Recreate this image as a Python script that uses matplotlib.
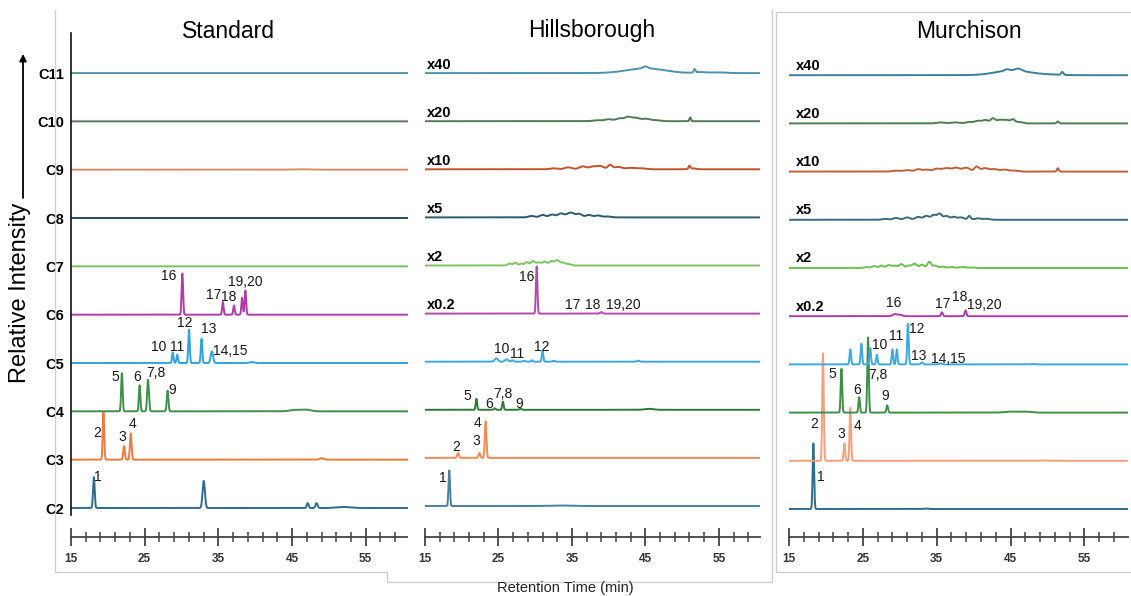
import numpy as np
import matplotlib
matplotlib.use("Agg")
import matplotlib.pyplot as plt
from matplotlib.lines import Line2D

plt.rcParams['font.family'] = ['Liberation Sans', 'DejaVu Sans']

# ---------------------------------------------------------------- data
# Retention-time grid (min)
t = np.linspace(15, 61, 4601)

row_names = ["C2", "C3", "C4", "C5", "C6", "C7", "C8", "C9", "C10", "C11"]
scale_labels = ["", "", "", "", "x0.2", "x2", "x5", "x10", "x20", "x40"]
titles = ["Standard", "Hillsborough", "Murchison"]
major_ticks = [15, 25, 35, 45, 55]

# Peak tables per trace: (retention time [min], height [trace units], sigma [min])
std_C2 = [(18.1, 0.64, 0.11), (33.0, 0.56, 0.16), (47.1, 0.10, 0.12), (48.3, 0.10, 0.14), (52.0, 0.02, 1.0)]
std_C3 = [(19.4, 0.98, 0.10), (22.2, 0.28, 0.11), (23.1, 0.54, 0.11), (49.0, 0.03, 0.3)]
std_C4 = [(21.9, 0.79, 0.10), (24.3, 0.54, 0.10), (25.45, 0.65, 0.12), (28.1, 0.43, 0.11),
          (45.5, 0.03, 0.8), (47.0, 0.03, 0.6)]
std_C5 = [(28.8, 0.22, 0.10), (29.4, 0.17, 0.10), (31.0, 0.69, 0.10), (32.7, 0.50, 0.10),
          (34.1, 0.24, 0.16), (39.5, 0.02, 0.3)]
std_C6 = [(30.1, 0.85, 0.10), (35.6, 0.26, 0.10), (37.1, 0.19, 0.10), (38.2, 0.35, 0.10), (38.65, 0.50, 0.10)]
std_C7 = []
std_C8 = []
std_C9 = [(46.0, 0.01, 1.0)]
std_C10 = []
std_C11 = []

hil_C2 = [(18.3, 0.74, 0.10), (33.5, 0.01, 1.5)]
hil_C3 = [(19.5, 0.10, 0.12), (22.4, 0.10, 0.12), (23.25, 0.76, 0.11)]
hil_C4 = [(22.0, 0.23, 0.10), (24.5, 0.03, 0.12), (25.6, 0.17, 0.10), (28.0, 0.02, 0.15), (45.5, 0.02, 0.6)]
hil_C5 = [(24.7, 0.07, 0.22), (26.1, 0.05, 0.2), (26.9, 0.03, 0.15), (28.5, 0.02, 0.15),
          (29.5, 0.03, 0.12), (31.0, 0.23, 0.10), (32.5, 0.02, 0.15), (44.0, 0.02, 0.2)]
hil_C6 = [(30.2, 0.98, 0.10), (39.0, 0.03, 0.15)]
hil_C7 = [(26.5, 0.04, 0.25), (27.3, 0.06, 0.25), (28.1, 0.04, 0.2), (28.8, 0.07, 0.25), (29.7, 0.09, 0.3),
          (30.5, 0.06, 0.3), (31.3, 0.08, 0.3), (32.2, 0.09, 0.3), (33.0, 0.11, 0.3), (33.8, 0.06, 0.3),
          (34.6, 0.03, 0.3)]
hil_C8 = [(29.5, 0.03, 0.4), (31.0, 0.05, 0.4), (32.3, 0.06, 0.4), (33.5, 0.08, 0.4), (34.8, 0.10, 0.5),
          (36.0, 0.07, 0.4), (37.3, 0.05, 0.4), (38.5, 0.04, 0.4), (39.8, 0.02, 0.5)]
hil_C9 = [(32.5, 0.02, 0.5), (34.5, 0.04, 0.5), (36.5, 0.06, 0.5), (37.8, 0.05, 0.4), (38.8, 0.07, 0.5),
          (40.2, 0.09, 0.3), (41.3, 0.05, 0.5), (43.0, 0.03, 0.6), (44.5, 0.02, 0.6), (51.0, 0.07, 0.12),
          (51.5, 0.02, 0.4)]
hil_C10 = [(38.5, 0.02, 0.6), (40.0, 0.04, 0.5), (41.5, 0.06, 0.5), (42.6, 0.08, 0.4), (43.6, 0.07, 0.5),
           (45.0, 0.05, 0.6), (46.5, 0.02, 0.6), (51.1, 0.08, 0.10)]
hil_C11 = [(45.0, 0.10, 2.5), (45.0, 0.04, 0.3), (51.7, 0.07, 0.12), (52.5, 0.02, 0.8), (55.0, 0.015, 1.0)]

mur_C2 = [(18.3, 1.36, 0.10), (33.5, 0.01, 0.3)]
mur_C3 = [(19.6, 2.23, 0.10), (22.5, 0.36, 0.10), (23.3, 1.10, 0.10), (49.5, 0.01, 0.3)]
mur_C4 = [(22.1, 0.91, 0.10), (24.5, 0.32, 0.10), (25.7, 1.56, 0.10), (28.3, 0.15, 0.11),
          (45.0, 0.02, 0.8), (47.0, 0.02, 0.8)]
mur_C5 = [(23.3, 0.31, 0.10), (24.8, 0.43, 0.10), (26.0, 0.34, 0.10), (26.9, 0.20, 0.10), (29.0, 0.31, 0.10),
          (29.6, 0.31, 0.10), (31.1, 0.84, 0.10), (33.0, 0.04, 0.15), (35.5, 0.02, 0.2), (48.0, 0.01, 0.3)]
mur_C6 = [(29.3, 0.04, 0.3), (30.0, 0.03, 0.3), (35.7, 0.08, 0.12), (38.9, 0.12, 0.12)]
mur_C7 = [(25.5, 0.02, 0.3), (26.5, 0.04, 0.3), (27.5, 0.05, 0.3), (28.5, 0.06, 0.3), (29.3, 0.05, 0.3),
          (30.2, 0.08, 0.3), (31.2, 0.05, 0.3), (32.0, 0.09, 0.3), (33.0, 0.07, 0.3), (34.0, 0.13, 0.25),
          (34.8, 0.05, 0.3), (35.8, 0.03, 0.3), (37.0, 0.02, 0.4), (38.5, 0.02, 0.4), (39.8, 0.01, 0.4)]
mur_C8 = [(28.0, 0.02, 0.4), (29.5, 0.04, 0.4), (31.0, 0.05, 0.4), (32.5, 0.06, 0.4), (33.6, 0.08, 0.35),
          (34.6, 0.10, 0.35), (35.4, 0.12, 0.3), (36.3, 0.08, 0.35), (37.3, 0.06, 0.35), (38.3, 0.05, 0.4),
          (39.4, 0.08, 0.2), (40.5, 0.03, 0.4), (41.7, 0.02, 0.5)]
mur_C9 = [(29.5, 0.02, 0.5), (31.0, 0.03, 0.5), (32.5, 0.05, 0.4), (33.6, 0.04, 0.4), (35.0, 0.06, 0.5),
          (36.3, 0.07, 0.5), (37.6, 0.08, 0.5), (39.0, 0.08, 0.5), (40.4, 0.10, 0.3), (41.5, 0.07, 0.5),
          (42.8, 0.05, 0.5), (44.2, 0.04, 0.5), (45.5, 0.02, 0.5), (51.4, 0.07, 0.12)]
mur_C10 = [(35.5, 0.02, 0.5), (37.5, 0.02, 0.6), (39.5, 0.03, 0.5), (40.6, 0.05, 0.4), (41.6, 0.07, 0.4),
           (42.6, 0.10, 0.3), (43.5, 0.07, 0.4), (44.4, 0.07, 0.4), (45.3, 0.08, 0.3), (46.2, 0.03, 0.4),
           (51.4, 0.04, 0.15)]
mur_C11 = [(45.3, 0.10, 2.3), (44.5, 0.03, 0.3), (45.8, 0.03, 0.3), (46.3, 0.03, 0.3), (52.0, 0.06, 0.15),
           (50.5, 0.01, 1.5)]

standard = [std_C2, std_C3, std_C4, std_C5, std_C6, std_C7, std_C8, std_C9, std_C10, std_C11]
hillsborough = [hil_C2, hil_C3, hil_C4, hil_C5, hil_C6, hil_C7, hil_C8, hil_C9, hil_C10, hil_C11]
murchison = [mur_C2, mur_C3, mur_C4, mur_C5, mur_C6, mur_C7, mur_C8, mur_C9, mur_C10, mur_C11]

# Peak number labels: (text, retention time, vertical position in row units)
std_labels = [("1", 18.66, 0.64), ("2", 18.49, 1.55), ("3", 21.92, 1.47), ("4", 23.37, 1.74),
              ("5", 21.07, 2.71), ("6", 23.96, 2.71), ("7,8", 26.49, 2.79), ("9", 28.66, 2.44),
              ("10", 26.90, 3.33), ("11", 29.34, 3.33), ("12", 30.47, 3.83), ("13", 33.63, 3.70),
              ("14,15", 36.57, 3.25), ("16", 28.20, 4.79), ("17", 34.31, 4.41), ("18", 36.34, 4.37),
              ("19,20", 38.61, 4.68)]
hil_labels = [("1", 17.41, 0.58), ("2", 19.31, 1.23), ("3", 22.03, 1.36), ("4", 22.12, 1.73),
              ("5", 20.76, 2.29), ("6", 23.75, 2.12), ("7,8", 25.57, 2.33), ("9", 27.83, 2.12),
              ("10", 25.44, 3.26), ("11", 27.48, 3.17), ("12", 30.88, 3.30), ("16", 28.84, 4.77),
              ("17", 35.10, 4.18), ("18", 37.86, 4.18), ("19,20", 41.98, 4.18)]
mur_labels = [("1", 19.29, 0.67), ("2", 18.38, 1.76), ("3", 22.13, 1.55), ("4", 24.24, 1.73),
              ("5", 20.91, 2.80), ("6", 24.16, 2.47), ("7,8", 27.08, 2.78), ("9", 27.99, 2.35),
              ("10", 27.31, 3.40), ("11", 29.57, 3.59), ("12", 32.36, 3.73), ("13", 32.50, 3.17),
              ("14,15", 36.56, 3.11), ("16", 29.21, 4.28), ("17", 35.80, 4.25), ("18", 38.14, 4.39),
              ("19,20", 41.39, 4.23)]

# ---------------------------------------------------------------- style
std_colors = ["#2f6b8a", "#f07a3c", "#3f8f46", "#2ea4dd", "#b03aa8",
              "#79c262", "#1f4d66", "#d98c68", "#4e7d55", "#5a95ad"]
hil_colors = ["#4a80a2", "#f28b55", "#2f7a36", "#38a9e0", "#b44aac",
              "#7cc463", "#2a5a72", "#c0542c", "#4e7d55", "#4d92ad"]
mur_colors = ["#2f6b8a", "#f5a07a", "#3f8f46", "#3aaae0", "#b03aa8",
              "#6cc050", "#3a6a82", "#c0603a", "#4e7d55", "#3a7fa0"]

W, H = 1131, 596
fig = plt.figure(figsize=(W / 100, H / 100), dpi=100)
fig.patch.set_facecolor("white")


def trace(row, peaks):
    y = np.full_like(t, float(row))
    for rt, h, s in peaks:
        y += h * np.exp(-0.5 * ((t - rt) / s) ** 2)
    return y


def add_panel(x0, x1, xmax, base0, spacing, traces, colors, labels):
    top_px, bot_px = 33, 515
    ax = fig.add_axes([x0 / W, 1 - bot_px / H, (x1 - x0) / W, (bot_px - top_px) / H])
    ax.set_xlim(15, xmax)
    ax.set_ylim(-(bot_px - base0) / spacing, (base0 - top_px) / spacing)
    ax.patch.set_visible(False)
    for s in ax.spines.values():
        s.set_visible(False)
    ax.set_xticks([])
    ax.set_yticks([])
    for i, (peaks, c) in enumerate(zip(traces, colors)):
        ax.plot(t, trace(i, peaks), color=c, lw=1.4, solid_joinstyle="round")
    for txt, x, y in labels:
        ax.text(x, y, txt, fontsize=10, color="#1a1a1a", ha="center", va="center")
    return ax


def add_time_axis(x0, x1, xmax):
    y_px = 537
    ax = fig.add_axes([x0 / W, 1 - (y_px + 15) / H, (x1 - x0) / W, 30 / H])
    ax.set_xlim(15, xmax)
    ax.set_ylim(-1, 1)
    ax.patch.set_visible(False)
    for s in ["left", "right", "top"]:
        ax.spines[s].set_visible(False)
    ax.spines["bottom"].set_position(("data", 0))
    ax.spines["bottom"].set_color("#444444")
    ax.spines["bottom"].set_linewidth(1.3)
    ax.set_yticks([])
    ax.set_xticks(major_ticks)
    ax.set_xticks(np.arange(17, xmax, 2), minor=True)
    ax.tick_params(axis="x", which="major", direction="inout", length=13.5, width=1.3,
                   color="#444444", labelsize=8.5, labelcolor="#333333", pad=5)
    ax.tick_params(axis="x", which="minor", direction="inout", length=6.5, width=1.1, color="#444444")
    for lab in ax.get_xticklabels():
        lab.set_fontweight("bold")
    return ax


# Standard panel
ax_std = add_panel(71, 408, 60.7, 508, 48.33, standard, std_colors, std_labels)
ax_std.spines["left"].set_visible(True)
ax_std.spines["left"].set_linewidth(1.2)
ax_std.spines["left"].set_color("#111111")
ax_std.set_yticks(range(len(row_names)))
ax_std.set_yticklabels(row_names, fontsize=10.5, fontweight="bold")
ax_std.tick_params(axis="y", length=0, pad=5)
add_time_axis(71, 407, 60.6)

# Hillsborough panel
ax_hil = add_panel(425, 760, 60.6, 506, 48.1, hillsborough, hil_colors, hil_labels)
for i, lab in enumerate(scale_labels):
    if lab:
        ax_hil.text(15.2, i + 0.17, lab, fontsize=10.5, fontweight="bold", ha="left", va="center")
add_time_axis(425, 760, 60.6)

# Murchison panel
ax_mur = add_panel(789, 1128, 60.9, 509, 48.2, murchison, mur_colors, mur_labels)
for i, lab in enumerate(scale_labels):
    if lab:
        ax_mur.text(16.0, i + 0.2, lab, fontsize=10.5, fontweight="bold", ha="left", va="center")
add_time_axis(789, 1128, 60.9)

# Panel titles
for txt, xc in zip(titles, [228, 592, 969]):
    fig.text(xc / W, 1 - 31 / H, txt, fontsize=16.5, ha="center", va="center")

# Y-axis caption and arrow
fig.text(20 / W, 1 - 293 / H, "Relative Intensity", rotation=90, fontsize=17,
         ha="center", va="center")
fig.add_artist(plt.Annotation("", xy=(23 / W, 1 - 54 / H), xytext=(23 / W, 1 - 198 / H),
                              xycoords="figure fraction", textcoords="figure fraction",
                              arrowprops=dict(arrowstyle="-|>", color="black", lw=1.3,
                                              mutation_scale=10, shrinkA=0, shrinkB=0)))

fig.text(565 / W, 1 - 588 / H, "Retention Time (min)", fontsize=10.5, ha="center", va="center",
         color="#222222")


# Light grey frame lines around the three panels
def frame(xs, ys):
    fig.add_artist(Line2D([x / W for x in xs], [1 - y / H for y in ys], transform=fig.transFigure,
                          color="#cfcfcf", lw=1.0))


frame([55, 55, 387], [10, 572, 572])
frame([387, 387, 772, 772], [572, 582, 582, 10])
frame([1131, 776, 776, 1131], [12, 12, 572, 572])

fig.savefig("out.png", dpi=100, facecolor="white")
